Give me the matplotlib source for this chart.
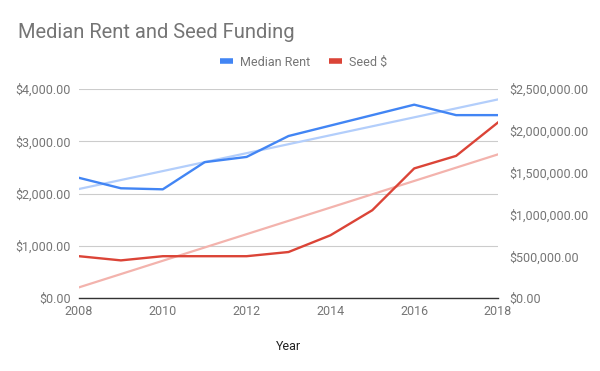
import numpy as np
import matplotlib
matplotlib.use("Agg")
import matplotlib.pyplot as plt
from matplotlib.lines import Line2D
from matplotlib.ticker import FuncFormatter

plt.rcParams['font.family'] = ['Roboto', 'DejaVu Sans']

years = [2008, 2009, 2010, 2011, 2012, 2013, 2014, 2015, 2016, 2017, 2018]
median_rent = [2300, 2100, 2080, 2600, 2700, 3100, 3300, 3500, 3700, 3500, 3500]
seed_funding = [500000, 450000, 500000, 500000, 500000, 550000, 750000,
                1050000, 1550000, 1700000, 2100000]

blue = '#4285f4'
red = '#db4437'
blue_trend = '#b3cefb'
red_trend = '#f3b3ad'
text_grey = '#757575'

fig = plt.figure(figsize=(6, 3.71), dpi=100)
ax = fig.add_axes([79 / 600, 1 - 298 / 371, (498 - 79) / 600, (298 - 89) / 371])
ax2 = ax.twinx()

x = np.array(years)
# linear trendlines, fitted from the series
rent_fit = np.polyfit(x, median_rent, 1)
seed_fit = np.polyfit(x, seed_funding, 1)
ax.plot(x, np.polyval(rent_fit, x), color=blue_trend, lw=1.6, zorder=2)
ax2.plot(x, np.polyval(seed_fit, x), color=red_trend, lw=1.6, zorder=2)

ax.plot(x, median_rent, color=blue, lw=1.7, zorder=3)
ax2.plot(x, seed_funding, color=red, lw=1.7, zorder=3)

ax.set_xlim(2008, 2018)
ax.set_ylim(0, 4000)
ax2.set_ylim(0, 2500000)
ax.set_yticks([0, 1000, 2000, 3000, 4000])
ax2.set_yticks([0, 500000, 1000000, 1500000, 2000000, 2500000])
ax.set_xticks([2008, 2010, 2012, 2014, 2016, 2018])

money = FuncFormatter(lambda v, p: '${:,.2f}'.format(v))
ax.yaxis.set_major_formatter(money)
ax2.yaxis.set_major_formatter(money)

ax.grid(axis='y', color='#cccccc', lw=0.8)
ax.set_axisbelow(True)
for a in (ax, ax2):
    for s in a.spines.values():
        s.set_visible(False)
    a.tick_params(length=0, labelsize=9, colors=text_grey)
ax.spines['bottom'].set_visible(True)
ax.spines['bottom'].set_color('#333333')
ax.spines['bottom'].set_linewidth(1.0)
ax.tick_params(axis='y', pad=6)
ax2.tick_params(axis='y', pad=8)
ax.tick_params(axis='x', pad=5)

ax.set_xlabel('Year', fontsize=9, color='#222222', labelpad=16)

fig.text(18 / 600, 1 - 32 / 371, 'Median Rent and Seed Funding', fontsize=14.5,
         color=text_grey, va='center', ha='left')

handles = [Line2D([], [], color=blue, lw=4, solid_capstyle='butt'),
           Line2D([], [], color=red, lw=4, solid_capstyle='butt')]
fig.legend(handles, ['Median Rent', 'Seed $'], loc='center',
           bbox_to_anchor=(304 / 600, 1 - 62 / 371), ncol=2, frameon=False,
           fontsize=9, labelcolor=text_grey, handlelength=1.0,
           handletextpad=0.6, columnspacing=1.5)

fig.savefig('out.png', dpi=100)
